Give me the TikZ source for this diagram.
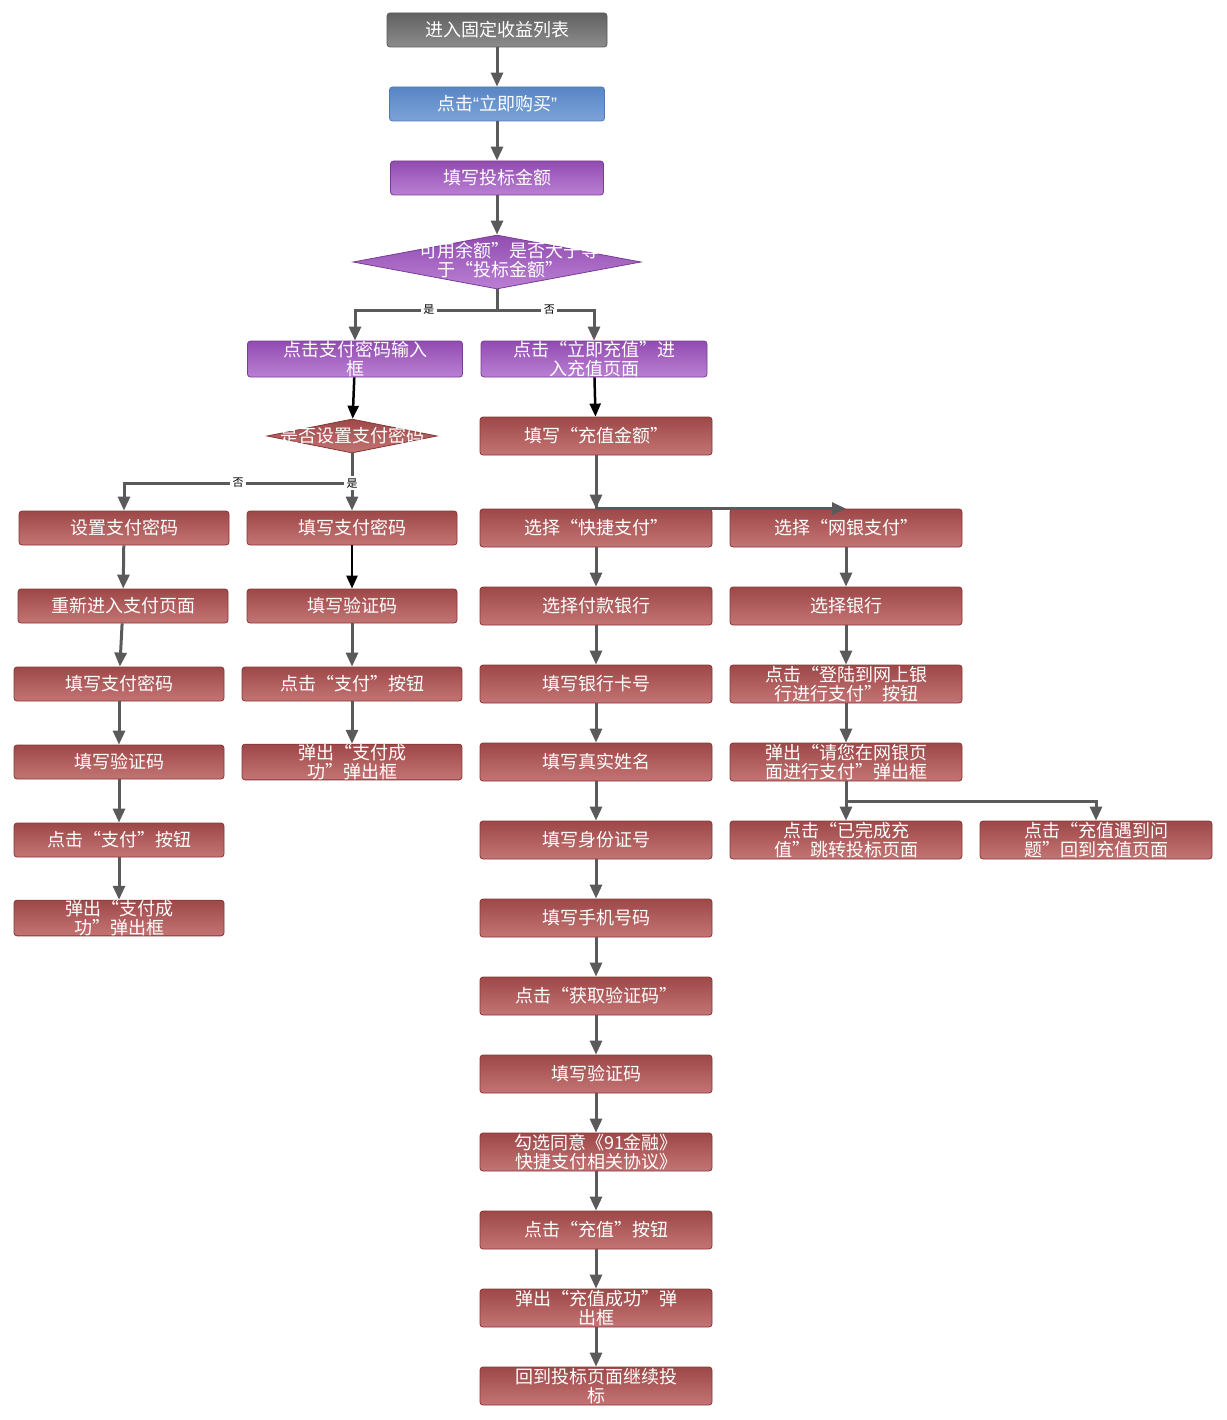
\documentclass[tikz,border=0pt]{standalone}
\usepackage{fontspec}
\newfontfamily\cjk{Noto Sans CJK SC}
\newfontfamily\latq{Liberation Sans}
\usetikzlibrary{shapes.geometric,arrows.meta}
\definecolor{arrgray}{HTML}{5A5A5A}

\begin{document}
\begin{tikzpicture}
[x=1pt, y=-1pt,
 every node/.style={inner sep=0pt},
 box/.style={rectangle, rounded corners=3pt, line width=0.8pt, text=white, align=center,
   font=\cjk\fontsize{18}{19}\selectfont, minimum height=34pt},
 gbox/.style={box, draw=black!65, top color=black!62, bottom color=black!45},
 bbox/.style={box, draw={rgb,255:red,80;green,120;blue,180}, top color={rgb,255:red,88;green,134;blue,196}, bottom color={rgb,255:red,124;green,163;blue,216}},
 pbox/.style={box, draw={rgb,255:red,120;green,60;blue,150}, top color={rgb,255:red,146;green,76;blue,176}, bottom color={rgb,255:red,186;green,128;blue,212}},
 rbox/.style={box, draw={rgb,255:red,135;green,55;blue,55}, top color={rgb,255:red,158;green,72;blue,72}, bottom color={rgb,255:red,196;green,116;blue,116}, minimum width=232pt, minimum height=38pt},
 pdec/.style={diamond, draw={rgb,255:red,120;green,60;blue,150}, line width=0.8pt, top color={rgb,255:red,146;green,76;blue,176}, bottom color={rgb,255:red,186;green,128;blue,212}},
 rdec/.style={diamond, draw={rgb,255:red,135;green,55;blue,55}, line width=0.8pt, top color={rgb,255:red,158;green,72;blue,72}, bottom color={rgb,255:red,196;green,116;blue,116}},
 dtext/.style={text=white, align=center, font=\cjk\fontsize{18}{19}\selectfont},
 arr/.style={line width=3pt, draw=arrgray, -{Triangle[width=12pt,length=14pt]}},
 barr/.style={line width=2.5pt, draw=black, -{Triangle[width=11pt,length=13pt]}},
 lbl/.style={fill=white, text=black, inner sep=2.5pt, font=\cjk\fontsize{11}{13}\selectfont}]
\useasboundingbox (0,0) rectangle (1226,1420);

% top
\node (n1) [gbox, minimum width=220pt] at (497,30) {进入固定收益列表};
\node (n2) [bbox, minimum width=215pt] at (497,104) {点击{\latq “}立即购买{\latq ”}};
\node (n3) [pbox, minimum width=213pt] at (497,178) {填写投标金额};
\node (d1) [pdec, minimum width=288pt, minimum height=54pt] at (497,262) {};
\node (d1t) [dtext] at (500,260) {“可用余额”是否大于等\\于“投标金额”};
\node (n4) [pbox, minimum width=215pt, minimum height=36pt] at (355,359) {点击支付密码输入\\框};
\node (n5) [pbox, minimum width=226pt, minimum height=36pt] at (594,359) {点击“立即充值”进\\入充值页面};
\node (d2) [rdec, minimum width=170pt, minimum height=34pt] at (352,436) {};
\node (d2t) [dtext] at (352,436) {是否设置支付密码};

% left column
\node (L1) [rbox, minimum width=210pt, minimum height=34pt] at (124,528) {设置支付密码};
\node (L2) [rbox, minimum width=210pt, minimum height=34pt] at (123,606) {重新进入支付页面};
\node (L3) [rbox, minimum width=210pt, minimum height=34pt] at (119,684) {填写支付密码};
\node (L4) [rbox, minimum width=210pt, minimum height=34pt] at (119,762) {填写验证码};
\node (L5) [rbox, minimum width=210pt, minimum height=34pt] at (119,840) {点击“支付”按钮};
\node (L6) [rbox, minimum width=210pt, minimum height=34pt] at (119,918) {弹出“支付成\\功”弹出框};

% middle column
\node (M1) [rbox, minimum width=210pt, minimum height=34pt] at (352,528) {填写支付密码};
\node (M2) [rbox, minimum width=210pt, minimum height=34pt] at (352,606) {填写验证码};
\node (M3) [rbox, minimum width=220pt, minimum height=34pt] at (352,684) {点击“支付”按钮};
\node (M4) [rbox, minimum width=220pt, minimum height=34pt] at (352,762) {弹出“支付成\\功”弹出框};

% recharge column
\node (R1) [rbox] at (596,436) {填写“充值金额”};
\node (R2) [rbox] at (596,528) {选择“快捷支付”};
\node (R3) [rbox] at (596,606) {选择付款银行};
\node (R4) [rbox] at (596,684) {填写银行卡号};
\node (R5) [rbox] at (596,762) {填写真实姓名};
\node (R6) [rbox] at (596,840) {填写身份证号};
\node (R7) [rbox] at (596,918) {填写手机号码};
\node (R8) [rbox] at (596,996) {点击“获取验证码”};
\node (R9) [rbox] at (596,1074) {填写验证码};
\node (R10) [rbox] at (596,1152) {勾选同意《91金融》\\快捷支付相关协议》};
\node (R11) [rbox] at (596,1230) {点击“充值”按钮};
\node (R12) [rbox] at (596,1308) {弹出“充值成功”弹\\出框};
\node (R13) [rbox] at (596,1386) {回到投标页面继续投\\标};

% online banking column
\node (W1) [rbox] at (846,528) {选择“网银支付”};
\node (W2) [rbox] at (846,606) {选择银行};
\node (W3) [rbox] at (846,684) {点击“登陆到网上银\\行进行支付”按钮};
\node (W4) [rbox] at (846,762) {弹出“请您在网银页\\面进行支付”弹出框};
\node (W5) [rbox] at (846,840) {点击“已完成充\\值”跳转投标页面};
\node (W6) [rbox] at (1096,840) {点击“充值遇到问\\题”回到充值页面};

\coordinate (j1) at (497,310);
\coordinate (j2) at (352,483);
\coordinate (j3) at (846,801);

% connectors
\draw [arr] (n1) -- (n2);
\draw [arr] (n2) -- (n3);
\draw [arr] (n3) -- (d1);
\draw [line width=3pt, draw=arrgray] (d1.south) -- (j1);
\draw [arr] (j1) -| node [lbl, pos=0.24] {是} (n4.north);
\draw [arr] (j1) -| node [lbl, pos=0.27] {否} (n5.north);
\draw [barr] (n4) -- (d2);
\draw [barr] (n5) -- (R1);
\draw [arr] (j2) -| node [lbl, pos=0.25] {否} (L1.north);
\draw [arr] (d2.south) -- node [lbl, pos=0.52] {是} (M1.north);
\draw [arr] (L1) -- (L2);
\draw [arr] (L2) -- (L3);
\draw [arr] (L3) -- (L4);
\draw [arr] (L4) -- (L5);
\draw [arr] (L5) -- (L6);
\draw [barr] (M1) -- (M2);
\draw [arr] (M2) -- (M3);
\draw [arr] (M3) -- (M4);
\draw [arr] (R1.south) |- (W1.north);
\foreach \a/\b in {R1/R2, R2/R3, R3/R4, R4/R5, R5/R6, R6/R7, R7/R8, R8/R9, R9/R10, R10/R11, R11/R12, R12/R13, W1/W2, W2/W3, W3/W4}
  \draw [arr] (\a) -- (\b);
\draw [line width=3pt, draw=arrgray] (W4.south) -- (j3);
\draw [arr] (j3) -- (W5.north);
\draw [arr] (j3) -| (W6.north);
\end{tikzpicture}
\end{document}
